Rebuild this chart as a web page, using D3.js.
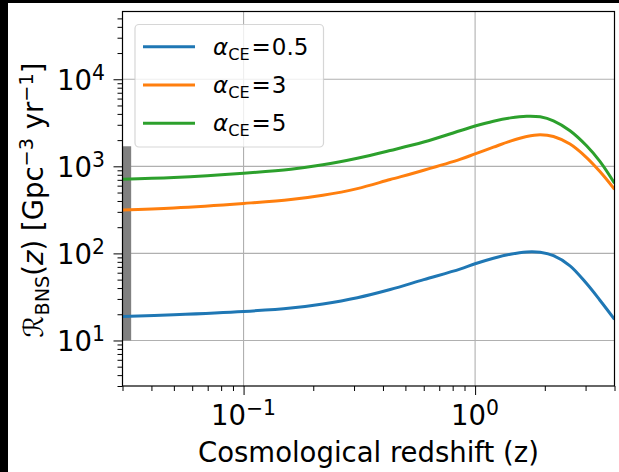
<!DOCTYPE html>
<html>
<head>
<meta charset="utf-8">
<script src="https://cdn.jsdelivr.net/npm/d3@7"></script>
<style>
  html, body { margin: 0; padding: 0; background: #000; }
  svg { display: block; }
  text { font-family: "DejaVu Sans", sans-serif; fill: #000; }
</style>
</head>
<body>
<svg id="chart" width="619" height="472"></svg>
<script>
// Redshift sample points shared by all three rate curves
const redshift = [0.03, 0.05, 0.1, 0.16, 0.22, 0.31, 0.43, 0.6, 0.86, 1.0, 1.2, 1.42, 1.67, 1.91, 2.18, 2.57, 3.03, 3.46, 4.0];

// BNS merger rate density [Gpc^-3 yr^-1] for each common-envelope efficiency
const rateAlpha05 = [18.8, 19.7, 21.5, 23.6, 26.3, 31, 38.5, 50, 66, 76, 88, 98, 104, 103, 94, 72, 45, 29, 17.5];
const rateAlpha3  = [316, 333, 375, 415, 465, 555, 705, 900, 1200, 1390, 1660, 1950, 2200, 2300, 2200, 1800, 1260, 870, 545];
const rateAlpha5  = [712, 745, 834, 927, 1040, 1240, 1520, 1900, 2560, 2900, 3300, 3600, 3760, 3700, 3330, 2560, 1720, 1140, 640];

const alphaValues = ["0.5", "3", "5"];
const seriesColors = ["#1f77b4", "#ff7f0e", "#2ca02c"];

// Local BNS rate interval shown as a band at the lowest redshift
const localRateRange = [10, 1700];
const localBandZ = [0.03, 0.0327];

// Axis ticks
const xDomain = [0.03, 4];
const yDomain = [3, 60000];
const xMajorTicks = [0.1, 1];
const xTickExponents = ["\u22121", "0"];
const xMinorTicks = [0.03, 0.04, 0.05, 0.06, 0.07, 0.08, 0.09, 0.2, 0.3, 0.4, 0.5, 0.6, 0.7, 0.8, 0.9, 2, 3, 4];
const yMajorTicks = [10, 100, 1000, 10000];
const yTickExponents = ["1", "2", "3", "4"];
const yMinorTicks = [3, 4, 5, 6, 7, 8, 9, 20, 30, 40, 50, 60, 70, 80, 90, 200, 300, 400, 500, 600, 700, 800, 900,
                     2000, 3000, 4000, 5000, 6000, 7000, 8000, 9000, 20000, 30000, 40000, 50000];

const series = [rateAlpha05, rateAlpha3, rateAlpha5].map((vals, i) => ({
  label: alphaValues[i],
  color: seriesColors[i],
  points: redshift.map((z, j) => [z, vals[j]])
}));

const svg = d3.select("#chart");
const plot = { left: 122.5, right: 614.5, top: 11.5, bottom: 386 };
const FS = 27.5;      // axis text size
const LFS = 23;       // legend text size

// canvas (white figure area with a dark edge on the left/top)
svg.append("rect").attr("x", 8).attr("y", 3).attr("width", 611).attr("height", 469).attr("fill", "#fff");

const x = d3.scaleLog().domain(xDomain).range([plot.left, plot.right]);
const y = d3.scaleLog().domain(yDomain).range([plot.bottom, plot.top]);

// grid
const grid = svg.append("g").attr("stroke", "#b0b0b0").attr("stroke-width", 1.1);
xMajorTicks.forEach(v => grid.append("line")
  .attr("x1", x(v)).attr("x2", x(v)).attr("y1", plot.top).attr("y2", plot.bottom));
yMajorTicks.forEach(v => grid.append("line")
  .attr("x1", plot.left).attr("x2", plot.right).attr("y1", y(v)).attr("y2", y(v)));

// local-rate band
svg.append("rect")
  .attr("x", x(localBandZ[0]))
  .attr("width", x(localBandZ[1]) - x(localBandZ[0]))
  .attr("y", y(localRateRange[1]))
  .attr("height", y(localRateRange[0]) - y(localRateRange[1]))
  .attr("fill", "#808080");

// curves
svg.append("clipPath").attr("id", "plotclip").append("rect")
  .attr("x", plot.left).attr("y", plot.top)
  .attr("width", plot.right - plot.left).attr("height", plot.bottom - plot.top);

const line = d3.line().x(d => x(d[0])).y(d => y(d[1])).curve(d3.curveCatmullRom.alpha(0.5));
svg.append("g").attr("clip-path", "url(#plotclip)")
  .selectAll("path").data(series).join("path")
  .attr("d", d => line(d.points))
  .attr("fill", "none")
  .attr("stroke", d => d.color)
  .attr("stroke-width", 3)
  .attr("stroke-linejoin", "round")
  .attr("stroke-linecap", "butt");

// axes: tick marks from d3 axes, labels added as math-style text
function tickAxis(axisFn, scale, values, size, transform) {
  const g = svg.append("g").attr("transform", transform)
    .call(axisFn(scale).tickValues(values).tickSize(size).tickFormat(""));
  g.select(".domain").remove();
  g.selectAll(".tick line").attr("stroke", "#000").attr("stroke-width", 1);
  return g;
}
tickAxis(d3.axisBottom, x, xMajorTicks, 9, `translate(0,${plot.bottom})`);
tickAxis(d3.axisBottom, x, xMinorTicks, 5, `translate(0,${plot.bottom})`);
tickAxis(d3.axisLeft, y, yMajorTicks, 9, `translate(${plot.left},0)`);
tickAxis(d3.axisLeft, y, yMinorTicks, 5, `translate(${plot.left},0)`);

// spines
svg.append("rect")
  .attr("x", plot.left).attr("y", plot.top)
  .attr("width", plot.right - plot.left).attr("height", plot.bottom - plot.top)
  .attr("fill", "none").attr("stroke", "#000").attr("stroke-width", 1.2);

// power-of-ten labels
function powerLabel(sel, exp, size) {
  sel.append("tspan").text("10");
  sel.append("tspan").attr("dy", -0.36 * size).attr("font-size", 0.74 * size).text(exp);
}
xMajorTicks.forEach((v, i) => {
  const t = svg.append("text").attr("x", x(v)).attr("y", 425)
    .attr("text-anchor", "middle").attr("font-size", FS);
  powerLabel(t, xTickExponents[i], FS);
});
yMajorTicks.forEach((v, i) => {
  const t = svg.append("text").attr("x", 105).attr("y", y(v) + 10.5)
    .attr("text-anchor", "end").attr("font-size", FS);
  powerLabel(t, yTickExponents[i], FS);
});

// axis titles
svg.append("text").attr("x", (plot.left + plot.right) / 2).attr("y", 462)
  .attr("text-anchor", "middle").attr("font-size", FS)
  .text("Cosmological redshift (z)");

const yl = svg.append("text")
  .attr("transform", "translate(43,200) rotate(-90)")
  .attr("text-anchor", "middle").attr("font-size", FS);
yl.append("tspan").attr("font-style", "italic").text("\u211B");
yl.append("tspan").attr("dy", 0.2 * FS).attr("font-size", 0.7 * FS).text("BNS");
yl.append("tspan").attr("dy", -0.2 * FS).text("(");
yl.append("tspan").attr("font-style", "italic").text("z");
yl.append("tspan").text(") [Gpc");
yl.append("tspan").attr("dy", -0.36 * FS).attr("font-size", 0.7 * FS).text("\u22123");
yl.append("tspan").attr("dy", 0.36 * FS).text(" yr");
yl.append("tspan").attr("dy", -0.36 * FS).attr("font-size", 0.7 * FS).text("\u22121");
yl.append("tspan").attr("dy", 0.36 * FS).text("]");

// legend
const lg = svg.append("g");
lg.append("rect").attr("x", 135).attr("y", 24.5).attr("width", 188.5).attr("height", 122.5)
  .attr("rx", 4).attr("fill", "#fff").attr("fill-opacity", 0.8)
  .attr("stroke", "#cccccc").attr("stroke-opacity", 0.8).attr("stroke-width", 1.2);
series.forEach((s, i) => {
  const cy = 46.7 + i * 38.3;
  lg.append("line").attr("x1", 143).attr("x2", 195).attr("y1", cy).attr("y2", cy)
    .attr("stroke", s.color).attr("stroke-width", 3);
  const t = lg.append("text").attr("x", 213).attr("y", cy + 7.8).attr("font-size", LFS);
  t.append("tspan").attr("font-style", "italic").text("\u03B1");
  t.append("tspan").attr("dy", 0.22 * LFS).attr("font-size", 0.7 * LFS).text("CE");
  t.append("tspan").attr("dy", -0.22 * LFS).attr("dx", 2).text("=");
  t.append("tspan").attr("dx", 1).text(s.label);
});
</script>
</body>
</html>
